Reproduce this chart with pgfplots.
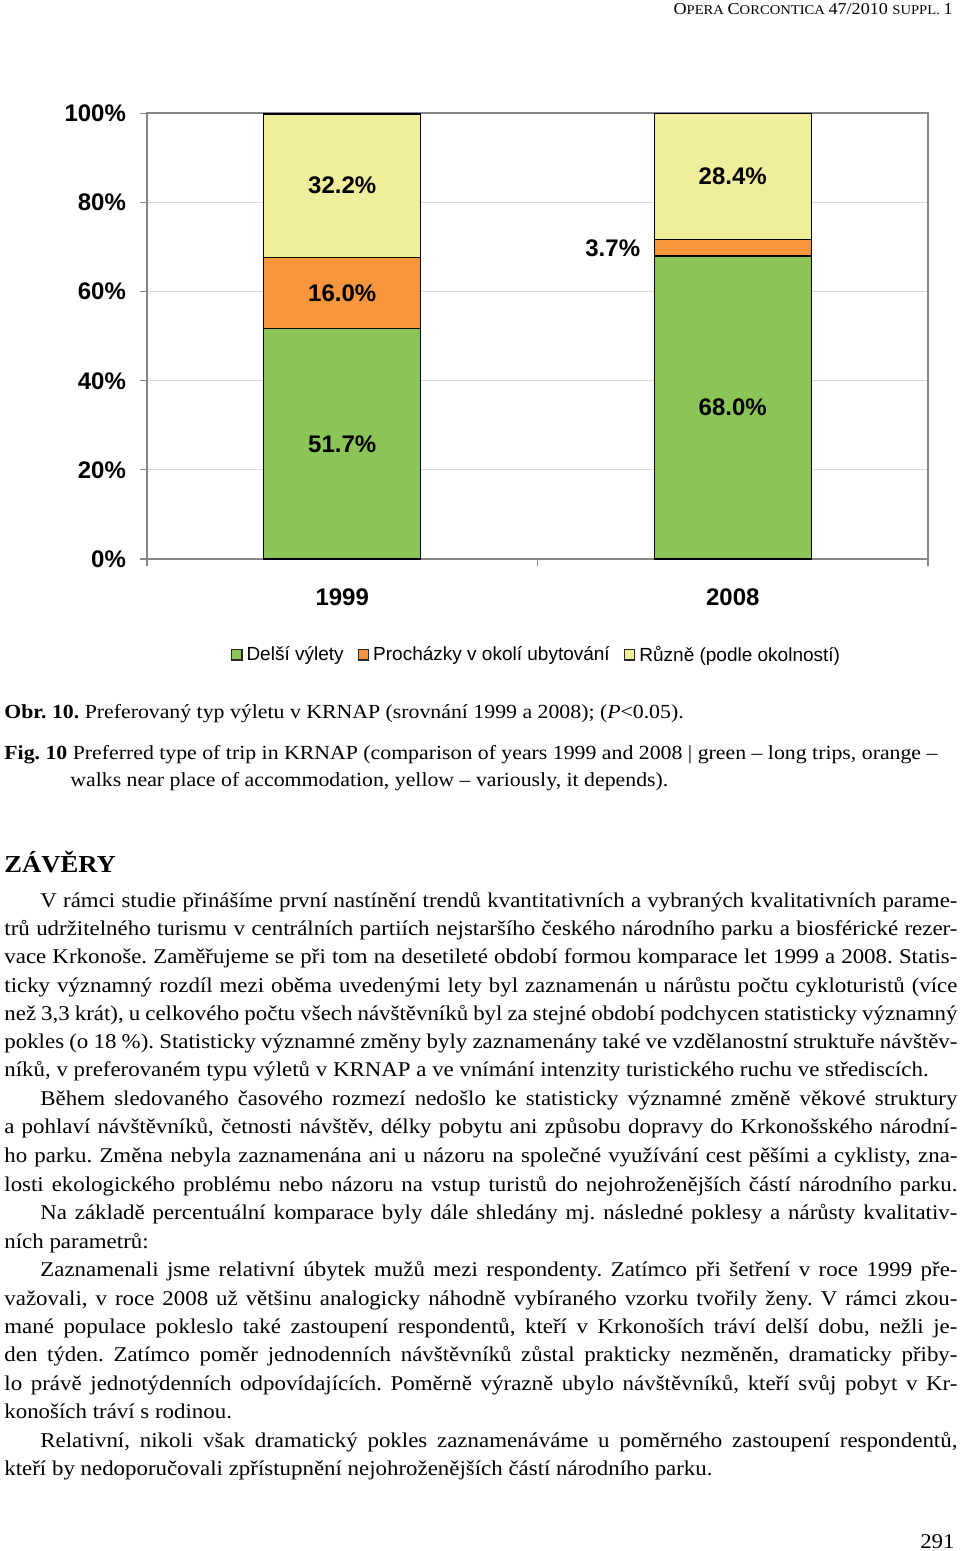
\documentclass[border=0pt]{standalone}
\usepackage{fontspec}
\setmainfont{Liberation Serif}[FakeStretch=1.09]
\newfontfamily\arial{Liberation Sans}
\usepackage{pgfplots}
\pgfplotsset{compat=1.18}
\usepackage{pgfplotstable}

\definecolor{cgreen}{RGB}{139,197,88}
\definecolor{corange}{RGB}{247,150,60}
\definecolor{cyellow}{RGB}{240,238,155}
\definecolor{axisgray}{RGB}{134,134,134}
\definecolor{gridgray}{RGB}{217,217,217}

% share of each trip type, per year (dx = shift of the value label, pt)
\pgfplotstableread{
x y dx
1 51.7 0
2 68.0 0
}\greendata
\pgfplotstableread{
x y dx
1 16.0 0
2 3.7 -60
}\orangedata
\pgfplotstableread{
x y dx
1 32.2 0
2 28.4 0
}\yellowdata

% body text helpers (coordinates in pixels of the page)
\newcommand\body{\fontsize{10.5}{14}\selectfont\frenchspacing}
\newcommand\fullline[2]{\node[anchor=base west,inner sep=0] at (4,#1) {\body\hbox to 476.5pt{#2}};}
\newcommand\indline[2]{\node[anchor=base west,inner sep=0] at (40,#1) {\body\hbox to 458.5pt{#2}};}
\newcommand\lastline[3]{\node[anchor=base west,inner sep=0] at (#1,#2) {\body #3};}
\newcommand\capt{\fontsize{10}{12}\selectfont\frenchspacing}
\newcommand\bigc{\fontsize{8.3}{9}\selectfont}
\newcommand\smc{\fontsize{6.7}{8}\selectfont}

\begin{document}
\begin{tikzpicture}
\begin{scope}[x=0.5pt,y=-0.5pt]
\path (0,0) rectangle (960,1551);

\node[anchor=base east,inner sep=0] at (953,15)
  {\bigc O\smc PERA \bigc C\smc ORCONTICA \bigc 47/2010 \smc SUPPL. \bigc 1};

% caption
\node[anchor=base west,inner sep=0] at (4,718)
  {\capt\textbf{Obr. 10.} Preferovaný typ výletu v~KRNAP (srovnání 1999 a~2008); (\textit{P}<0.05).};
\node[anchor=base west,inner sep=0] at (4,759)
  {\capt\textbf{Fig. 10} Preferred type of trip in KRNAP (comparison of years 1999 and 2008 | green – long trips, orange –};
\node[anchor=base west,inner sep=0] at (70,786)
  {\capt walks near place of accommodation, yellow – variously, it depends).};

\node[anchor=base west,inner sep=0] at (4,872) {\fontsize{12.2}{14}\selectfont\bfseries ZÁVĚRY};

\indline{907}{V rámci studie přinášíme první nastínění trendů kvantitativních a vybraných kvalitativních parame-}
\fullline{935}{trů udržitelného turismu v centrálních partiích nejstaršího českého národního parku a biosférické rezer-}
\fullline{963}{vace Krkonoše. Zaměřujeme se při tom na desetileté období formou komparace let 1999 a 2008. Statis-}
\fullline{992}{ticky významný rozdíl mezi oběma uvedenými lety byl zaznamenán u nárůstu počtu cykloturistů (více}
\fullline{1020}{než 3,3 krát), u celkového počtu všech návštěvníků byl za stejné období podchycen statisticky významný}
\fullline{1048}{pokles (o 18 \%). Statisticky významné změny byly zaznamenány také ve vzdělanostní struktuře návštěv-}
\lastline{4}{1076}{níků, v preferovaném typu výletů v KRNAP a ve vnímání intenzity turistického ruchu ve střediscích.}
\indline{1105}{Během sledovaného časového rozmezí nedošlo ke statisticky významné změně věkové struktury}
\fullline{1133}{a pohlaví návštěvníků, četnosti návštěv, délky pobytu ani způsobu dopravy do Krkonošského národní-}
\fullline{1162}{ho parku. Změna nebyla zaznamenána ani u názoru na společné využívání cest pěšími a cyklisty, zna-}
\fullline{1191}{losti ekologického problému nebo názoru na vstup turistů do nejohroženějších částí národního parku.}
\indline{1219}{Na základě percentuální komparace byly dále shledány mj. následné poklesy a nárůsty kvalitativ-}
\lastline{4}{1248}{ních parametrů:}
\indline{1276}{Zaznamenali jsme relativní úbytek mužů mezi respondenty. Zatímco při šetření v roce 1999 pře-}
\fullline{1305}{važovali, v roce 2008 už většinu analogicky náhodně vybíraného vzorku tvořily ženy. V rámci zkou-}
\fullline{1333}{mané populace pokleslo také zastoupení respondentů, kteří v Krkonoších tráví delší dobu, nežli je-}
\fullline{1361}{den týden. Zatímco poměr jednodenních návštěvníků zůstal prakticky nezměněn, dramaticky přiby-}
\fullline{1390}{lo právě jednotýdenních odpovídajících. Poměrně výrazně ubylo návštěvníků, kteří svůj pobyt v Kr-}
\lastline{4}{1418}{konoších tráví s rodinou.}
\indline{1447}{Relativní, nikoli však dramatický pokles zaznamenáváme u poměrného zastoupení respondentů,}
\lastline{4}{1475}{kteří by nedoporučovali zpřístupnění nejohroženějších částí národního parku.}

\node[anchor=base east,inner sep=0] at (955,1548) {\fontsize{10.5}{12}\selectfont 291};
\end{scope}

\begin{axis}[
    at={(73.5pt,-279.5pt)}, anchor=south west,
    scale only axis, width=390.5pt, height=223pt,
    ybar stacked, bar width=78.5pt,
    xmin=0.5, xmax=2.5, ymin=0, ymax=100.1,
    xtick={0.5,1.5,2.5}, xticklabels={},
    extra x ticks={1,2}, extra x tick labels={1999,2008},
    extra x tick style={major tick length=0pt, xticklabel style={yshift=-11.5pt}},
    ytick={0,20,...,100},
    yticklabel={\pgfmathprintnumber{\tick}\%},
    yticklabel style={xshift=-3.5pt},
    /pgf/number format/assume math mode=true,
    ymajorgrids, grid style={draw=gridgray, line width=0.6pt},
    axis line style={draw=axisgray, line width=0.8pt},
    tick align=outside, ytick pos=left, xtick pos=bottom,
    major tick length=3.5pt,
    tick style={draw=axisgray, line width=0.6pt},
    ticklabel style={font=\arial\bfseries\fontsize{12}{14}\selectfont},
    point meta=explicit,
    visualization depends on={\thisrow{dx} \as \dx},
    nodes near coords={\pgfmathprintnumber[fixed,fixed zerofill,precision=1]{\pgfplotspointmeta}\%},
    every node near coord/.append style={font=\arial\bfseries\fontsize{12}{14}\selectfont, xshift=\dx pt},
    legend style={draw=none, at={(0.5,-0.215)}, anchor=center, legend columns=-1,
      font=\arial\fontsize{9.5}{11}\selectfont,
      /tikz/every even column/.append style={column sep=5pt}},
    legend image code/.code={\draw[#1, draw=black!85, line width=0.6pt] (0pt,-2.6pt) rectangle (5.2pt,2.6pt);},
]
\addplot[fill=cgreen, draw=black, line width=0.7pt] table[x=x, y=y, meta=y] {\greendata};
\addplot[fill=corange, draw=black, line width=0.7pt] table[x=x, y=y, meta=y] {\orangedata};
\addplot[fill=cyellow, draw=black, line width=0.7pt] table[x=x, y=y, meta=y] {\yellowdata};
\legend{Delší výlety, Procházky v okolí ubytování, Různě (podle okolností)}
\end{axis}
\end{tikzpicture}
\end{document}
